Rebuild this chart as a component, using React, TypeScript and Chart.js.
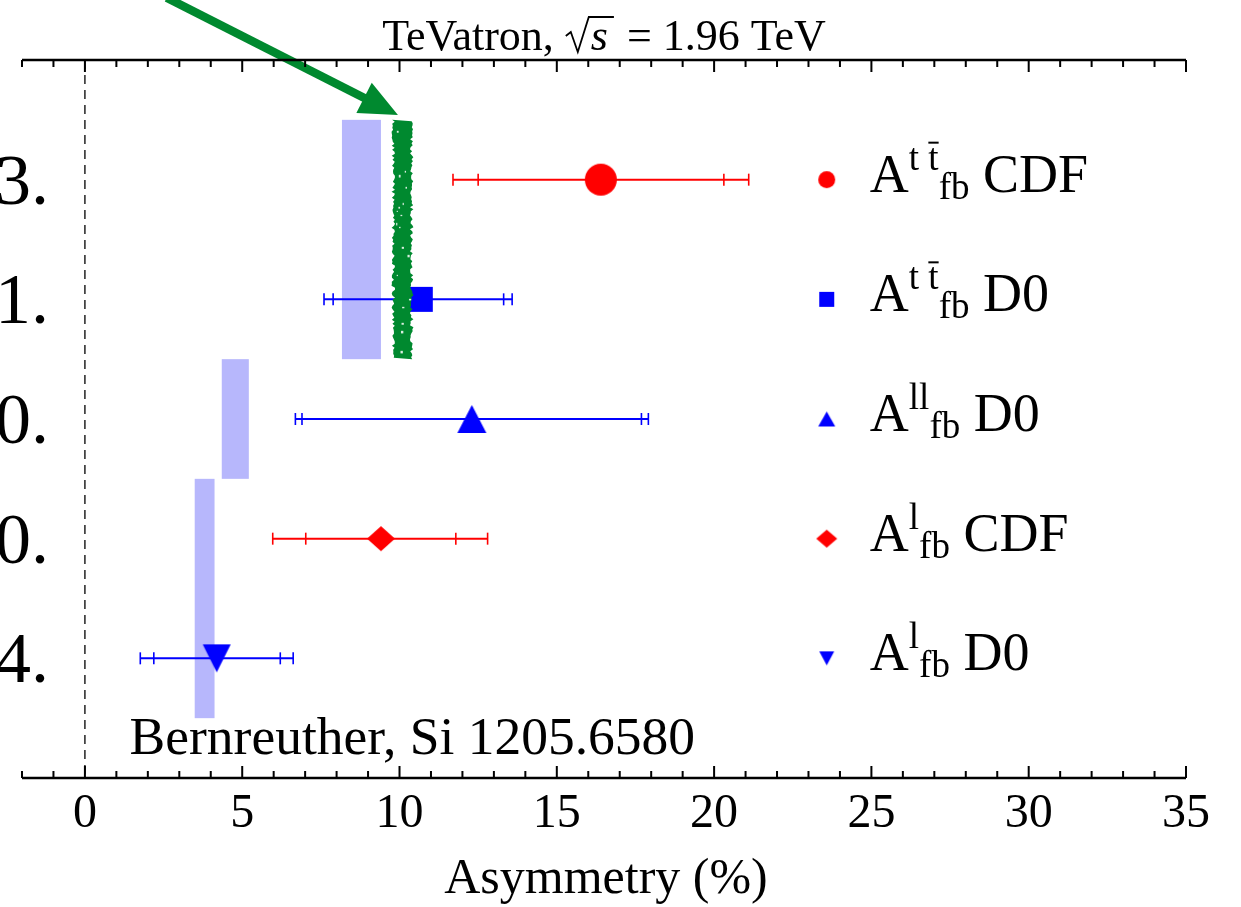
import { useEffect, useRef } from "react";
import { Chart, registerables } from "chart.js";

Chart.register(...registerables);

// ---- measurements (forward–backward asymmetries, %) ----
const rowPositions = [1, 2, 3, 4, 5];
const rowLabels = ["3.", "1.", "0.", "0.", "4."];
const centralValues = [16.4, 10.66, 12.3, 9.41, 4.19];
const statLow = [12.5, 7.89, 6.9, 7.02, 2.19];
const statHigh = [20.31, 13.31, 17.69, 11.79, 6.21];
const totalLow = [11.7, 7.6, 6.69, 5.97, 1.76];
const totalHigh = [21.1, 13.58, 17.91, 12.8, 6.62];

// legend pieces: A^{sup}_{fb} + experiment
const legendSup = ["t t", "t t", "ll", "l", "l"];
const legendSupBar = [true, true, false, false, false];
const legendSub = ["fb", "fb", "fb", "fb", "fb"];
const legendExperiment = [" CDF", " D0", " D0", " CDF", " D0"];

// ---- theory predictions (shaded boxes) ----
const predLow = [8.17, 4.35, 3.49];
const predHigh = [9.41, 5.21, 4.12];
const predRowFrom = [0.5, 2.5, 3.5];
const predRowTo = [2.5, 3.5, 5.5];

// new-physics band and the arrow pointing at it
const bandLow = 9.86;
const bandHigh = 10.33;
const bandRowFrom = 0.5;
const bandRowTo = 2.5;
const arrowTail = [2.6, -0.52];
const arrowTip = [9.95, 0.46];

// ---- axes ----
const xMin = -2;
const xMax = 35;
const xMajorTicks = [0, 5, 10, 15, 20, 25, 30, 35];
const yMin = 0;
const yMax = 6;

const titleMain = "TeVatron, ";
const titleRoot = "s";
const titleTail = " = 1.96 TeV";
const xAxisTitle = "Asymmetry (%)";
const noteText = "Bernreuther, Si 1205.6580";
const notePos = [1.42, 5.8];
const legendMarkerX = 23.58;
const legendTextX = 24.95;

// ---- styles ----
const SERIF = '"Liberation Serif", "Times New Roman", serif';
const RED = "#ff0000";
const BLUE = "#0000ff";
const GREEN = "#00892f";
const LAVENDER = "rgb(183,183,252)";
const markerColors = [RED, BLUE, BLUE, RED, BLUE];
const markerShapes = ["circle", "square", "triangleUp", "diamond", "triangleDown"];
const markerW = [32, 25, 29, 28, 28];
const markerH = [32, 25, 28, 25, 28];
const legendW = [17, 15, 17, 21, 15];
const legendH = [17, 15, 15, 18, 14];

function makeMarker(shape: string, w: number, h: number, color: string) {
  const c = document.createElement("canvas");
  c.width = Math.ceil(w) + 2;
  c.height = Math.ceil(h) + 2;
  const g = c.getContext("2d")!;
  const cx = c.width / 2;
  const cy = c.height / 2;
  g.fillStyle = color;
  g.beginPath();
  if (shape === "circle") {
    g.arc(cx, cy, w / 2, 0, Math.PI * 2);
  } else if (shape === "square") {
    g.rect(cx - w / 2, cy - h / 2, w, h);
  } else if (shape === "triangleUp") {
    g.moveTo(cx, cy - h / 2);
    g.lineTo(cx + w / 2, cy + h / 2);
    g.lineTo(cx - w / 2, cy + h / 2);
    g.closePath();
  } else if (shape === "triangleDown") {
    g.moveTo(cx - w / 2, cy - h / 2);
    g.lineTo(cx + w / 2, cy - h / 2);
    g.lineTo(cx, cy + h / 2);
    g.closePath();
  } else {
    g.moveTo(cx, cy - h / 2);
    g.lineTo(cx + w / 2, cy);
    g.lineTo(cx, cy + h / 2);
    g.lineTo(cx - w / 2, cy);
    g.closePath();
  }
  g.fill();
  return c;
}

// deterministic grain for the ragged edge of the band
function grain(i: number, k: number) {
  const s = Math.sin(i * 127.1 + k * 311.7) * 43758.5453;
  return s - Math.floor(s);
}

const framePlugin = {
  id: "asymFrame",
  beforeDatasetsDraw(chart: any) {
    const { ctx, scales } = chart;
    const xs = scales.x;
    const ys = scales.y;
    const area = chart.chartArea;
    ctx.save();
    // prediction boxes
    ctx.fillStyle = LAVENDER;
    predLow.forEach((lo, i) => {
      const x0 = xs.getPixelForValue(lo);
      const x1 = xs.getPixelForValue(predHigh[i]);
      const y0 = ys.getPixelForValue(predRowFrom[i]);
      const y1 = ys.getPixelForValue(predRowTo[i]);
      ctx.fillRect(x0, y0, x1 - x0, y1 - y0);
    });
    // zero line
    ctx.strokeStyle = "#000";
    ctx.lineWidth = 1.3;
    ctx.setLineDash([9, 6]);
    ctx.beginPath();
    ctx.moveTo(xs.getPixelForValue(0), area.top);
    ctx.lineTo(xs.getPixelForValue(0), area.bottom);
    ctx.stroke();
    ctx.setLineDash([]);
    // error bars with stat and total caps
    rowPositions.forEach((r, i) => {
      const y = ys.getPixelForValue(r);
      ctx.strokeStyle = markerColors[i];
      ctx.lineWidth = 2;
      ctx.beginPath();
      ctx.moveTo(xs.getPixelForValue(totalLow[i]), y);
      ctx.lineTo(xs.getPixelForValue(totalHigh[i]), y);
      ctx.stroke();
      ctx.lineWidth = 1.6;
      [totalLow[i], statLow[i], statHigh[i], totalHigh[i]].forEach((v) => {
        const x = xs.getPixelForValue(v);
        ctx.beginPath();
        ctx.moveTo(x, y - 6);
        ctx.lineTo(x, y + 6);
        ctx.stroke();
      });
    });
    ctx.restore();
  },
  afterDatasetsDraw(chart: any) {
    const { ctx, scales } = chart;
    const xs = scales.x;
    const ys = scales.y;
    const area = chart.chartArea;
    ctx.save();

    // ragged green band
    const bx0 = xs.getPixelForValue(bandLow);
    const bx1 = xs.getPixelForValue(bandHigh);
    const by0 = ys.getPixelForValue(bandRowFrom);
    const by1 = ys.getPixelForValue(bandRowTo);
    ctx.fillStyle = GREEN;
    ctx.beginPath();
    let n = 0;
    for (let y = by0; y <= by1; y += 2, n++) {
      const x = bx0 - grain(n, 1) * 3.6;
      if (n === 0) ctx.moveTo(x, y);
      else ctx.lineTo(x, y);
    }
    for (let y = by1; y >= by0; y -= 2, n--) {
      ctx.lineTo(bx1 + grain(n, 2) * 3.6, y);
    }
    ctx.closePath();
    ctx.fill();
    ctx.fillStyle = "rgba(255,255,255,0.85)";
    let m = 0;
    for (let y = by0 + 3; y < by1 - 3; y += 4, m++) {
      if (grain(m, 3) > 0.7) {
        const x = bx0 + grain(m, 4) * (bx1 - bx0);
        ctx.fillRect(x, y, 1 + grain(m, 5) * 1.5, 1 + grain(m, 6) * 2);
      }
    }

    // arrow
    const tx = xs.getPixelForValue(arrowTail[0]);
    const ty = ys.getPixelForValue(arrowTail[1]);
    const hx = xs.getPixelForValue(arrowTip[0]);
    const hy = ys.getPixelForValue(arrowTip[1]);
    const len = Math.hypot(hx - tx, hy - ty);
    const dx = (hx - tx) / len;
    const dy = (hy - ty) / len;
    const headLen = 38;
    const headHalf = 17;
    const bx = hx - dx * headLen;
    const byy = hy - dy * headLen;
    ctx.strokeStyle = GREEN;
    ctx.lineWidth = 8.5;
    ctx.beginPath();
    ctx.moveTo(tx, ty);
    ctx.lineTo(bx + dx * 2, byy + dy * 2);
    ctx.stroke();
    ctx.fillStyle = GREEN;
    ctx.beginPath();
    ctx.moveTo(hx, hy);
    ctx.lineTo(bx - dy * headHalf, byy + dx * headHalf);
    ctx.lineTo(bx + dy * headHalf, byy - dx * headHalf);
    ctx.closePath();
    ctx.fill();

    // frame: top and bottom axes with inward ticks
    ctx.strokeStyle = "#000";
    ctx.lineWidth = 2.6;
    ctx.beginPath();
    ctx.moveTo(area.left, area.top);
    ctx.lineTo(area.right, area.top);
    ctx.moveTo(area.left, area.bottom);
    ctx.lineTo(area.right, area.bottom);
    ctx.stroke();
    ctx.lineWidth = 2;
    for (let v = xMin; v <= xMax; v++) {
      const x = xs.getPixelForValue(v);
      const l = v % 5 === 0 ? 12 : 7;
      ctx.beginPath();
      ctx.moveTo(x, area.top);
      ctx.lineTo(x, area.top + l);
      ctx.moveTo(x, area.bottom);
      ctx.lineTo(x, area.bottom - l);
      ctx.stroke();
    }

    // tick labels and axis title
    ctx.fillStyle = "#000";
    ctx.textAlign = "center";
    ctx.textBaseline = "alphabetic";
    ctx.font = `48px ${SERIF}`;
    xMajorTicks.forEach((v) => {
      ctx.fillText(String(v), xs.getPixelForValue(v), area.bottom + 49);
    });
    ctx.font = `50px ${SERIF}`;
    ctx.fillText(xAxisTitle, (area.left + area.right) / 2 + 2, area.bottom + 115);

    // row labels on the left
    ctx.textAlign = "right";
    ctx.font = `72px ${SERIF}`;
    rowPositions.forEach((r, i) => {
      ctx.fillText(rowLabels[i], area.left + 27, ys.getPixelForValue(r) + 24);
    });

    // note
    ctx.textAlign = "left";
    ctx.font = `53.5px ${SERIF}`;
    ctx.fillText(noteText, xs.getPixelForValue(notePos[0]), ys.getPixelForValue(notePos[1]));

    // legend
    const lmx = xs.getPixelForValue(legendMarkerX);
    const ltx = xs.getPixelForValue(legendTextX);
    rowPositions.forEach((r, i) => {
      const y = ys.getPixelForValue(r);
      const mk = makeMarker(markerShapes[i], legendW[i], legendH[i], markerColors[i]);
      ctx.drawImage(mk, lmx - mk.width / 2, y - mk.height / 2);
      const base = y + 12;
      let lx = ltx;
      ctx.fillStyle = "#000";
      ctx.font = `54px ${SERIF}`;
      ctx.fillText("A", lx, base);
      lx += ctx.measureText("A").width;
      ctx.font = `37px ${SERIF}`;
      const supBase = base - 22;
      ctx.fillText(legendSup[i], lx, supBase);
      const supW = ctx.measureText(legendSup[i]).width;
      if (legendSupBar[i]) {
        const tw = ctx.measureText("t").width;
        ctx.strokeStyle = "#000";
        ctx.lineWidth = 2;
        ctx.beginPath();
        ctx.moveTo(lx + supW - tw, supBase - 27);
        ctx.lineTo(lx + supW, supBase - 27);
        ctx.stroke();
      }
      lx += supW;
      ctx.fillText(legendSub[i], lx, base + 7);
      lx += ctx.measureText(legendSub[i]).width;
      ctx.font = `54px ${SERIF}`;
      ctx.fillText(legendExperiment[i], lx, base);
    });

    // title with square root
    const tb = area.top - 10;
    const fs = 44;
    ctx.font = `${fs}px ${SERIF}`;
    const w1 = ctx.measureText(titleMain).width;
    const wr = 24;
    const w3 = ctx.measureText(titleTail).width;
    ctx.font = `italic ${fs}px ${SERIF}`;
    const w2 = ctx.measureText(titleRoot).width;
    const total = w1 + wr + 2 + w2 + 8 + w3;
    let tx0 = (area.left + area.right) / 2 - total / 2;
    ctx.font = `${fs}px ${SERIF}`;
    ctx.fillText(titleMain, tx0, tb);
    tx0 += w1;
    // radical drawn as strokes so it reaches the overbar
    ctx.strokeStyle = "#000";
    ctx.lineWidth = 1.8;
    ctx.beginPath();
    ctx.moveTo(tx0 + 1, tb - 14);
    ctx.lineTo(tx0 + 6, tb - 18);
    ctx.lineTo(tx0 + 13, tb + 2);
    ctx.lineTo(tx0 + wr, tb - 33);
    ctx.lineTo(tx0 + wr + w2 + 8, tb - 33);
    ctx.stroke();
    tx0 += wr + 2;
    ctx.font = `italic ${fs}px ${SERIF}`;
    ctx.fillText(titleRoot, tx0, tb);
    tx0 += w2 + 8;
    ctx.font = `${fs}px ${SERIF}`;
    ctx.fillText(titleTail, tx0, tb);

    ctx.restore();
  },
};

export default function App() {
  const canvasRef = useRef<HTMLCanvasElement | null>(null);

  useEffect(() => {
    const canvas = canvasRef.current;
    if (!canvas) return;
    const datasets = rowPositions.map((r, i) => ({
      label: legendSup[i] + legendExperiment[i],
      data: [{ x: centralValues[i], y: r }],
      pointStyle: makeMarker(markerShapes[i], markerW[i], markerH[i], markerColors[i]),
      pointRadius: 16,
      showLine: false,
    }));
    const chart = new Chart(canvas, {
      type: "scatter",
      data: { datasets },
      options: {
        responsive: false,
        animation: false,
        devicePixelRatio: 1,
        events: [],
        layout: { padding: { left: 22, right: 55, top: 60, bottom: 129 } },
        scales: {
          x: { type: "linear", min: xMin, max: xMax, display: false },
          y: { type: "linear", min: yMin, max: yMax, reverse: true, display: false },
        },
        plugins: {
          legend: { display: false },
          tooltip: { enabled: false },
          title: { display: false },
        },
      },
      plugins: [framePlugin],
    } as any);
    return () => chart.destroy();
  }, []);

  return (
    <div style={{ position: "fixed", left: 0, top: 0, width: 1241, height: 907, background: "#fff" }}>
      <canvas ref={canvasRef} width={1241} height={907} style={{ width: 1241, height: 907 }} />
    </div>
  );
}
